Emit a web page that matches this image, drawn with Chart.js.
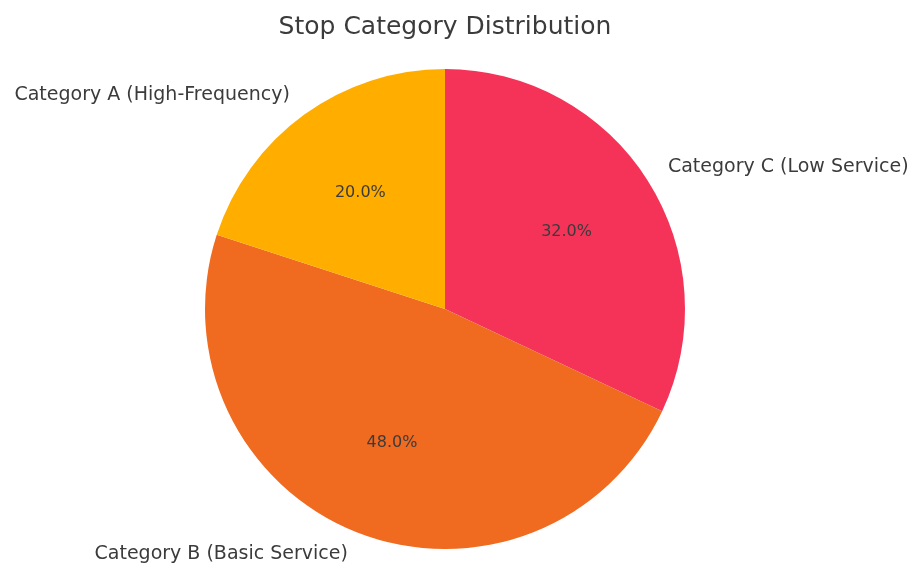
<!DOCTYPE html>
<html>
<head>
<meta charset="utf-8">
<script src="https://cdn.jsdelivr.net/npm/chart.js@4"></script>
<style>
  html, body { margin: 0; padding: 0; background: #fff; }
  #wrap { width: 910px; height: 564px; position: relative; }
</style>
</head>
<body>
<div id="wrap"><canvas id="myChart" width="910" height="564"></canvas></div>
<script>
// Chart data
const chartTitle = 'Stop Category Distribution';
const categories = ['Category A (High-Frequency)', 'Category B (Basic Service)', 'Category C (Low Service)'];
const shares = [20.0, 48.0, 32.0];
const sliceColors = ['#FFAE00', '#F06A20', '#F53358'];

// matplotlib draws counter-clockwise from the top, Chart.js clockwise,
// so feed the slices in reverse order
const order = [2, 1, 0];

const textColor = '#3b3b3b';
const fontFamily = '"DejaVu Sans", sans-serif';

// Plugin for the title, the outer labels and the percentages
const pieLabels = {
    id: 'pieLabels',
    afterDraw(chart) {
        const c = chart.ctx;
        const arcs = chart.getDatasetMeta(0).data;
        c.save();
        c.fillStyle = textColor;

        c.font = '25px ' + fontFamily;
        c.textAlign = 'center';
        c.textBaseline = 'middle';
        c.fillText(chartTitle, 445, 27);

        arcs.forEach((arc, i) => {
            const mid = (arc.startAngle + arc.endAngle) / 2;
            const r = arc.outerRadius;
            const cos = Math.cos(mid), sin = Math.sin(mid);

            // outer label
            c.font = '19px ' + fontFamily;
            c.textAlign = cos < 0 ? 'right' : 'left';
            c.textBaseline = 'middle';
            c.fillText(chart.data.labels[i], arc.x + 1.1 * r * cos, arc.y + 1.1 * r * sin);

            // percentage inside
            c.font = '16px ' + fontFamily;
            c.textAlign = 'center';
            const v = chart.data.datasets[0].data[i];
            c.fillText(v.toFixed(1) + '%', arc.x + 0.6 * r * cos, arc.y + 0.6 * r * sin);
        });
        c.restore();
    }
};

const ctx = document.getElementById('myChart').getContext('2d');
const chart = new Chart(ctx, {
    type: 'pie',
    data: {
        labels: order.map(i => categories[i]),
        datasets: [{
            data: order.map(i => shares[i]),
            backgroundColor: order.map(i => sliceColors[i]),
            borderWidth: 0
        }]
    },
    options: {
        responsive: false,
        animation: false,
        layout: {
            padding: { top: 69, bottom: 15, left: 205, right: 225 }
        },
        plugins: {
            legend: { display: false },
            tooltip: { enabled: false },
            title: { display: false }
        }
    },
    plugins: [pieLabels]
});
</script>
</body>
</html>
